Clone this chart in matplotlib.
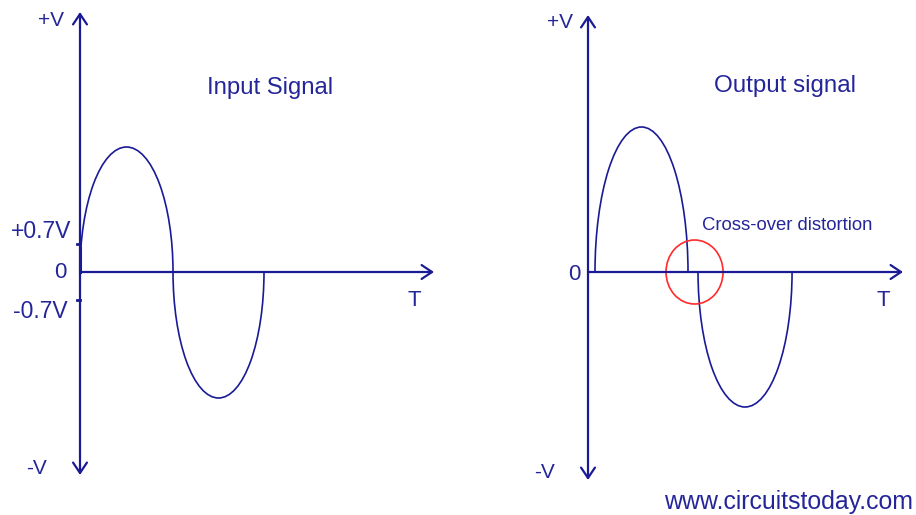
import matplotlib.pyplot as plt
from matplotlib.patches import Ellipse, Arc

plt.rcParams['font.family'] = ['Liberation Sans', 'DejaVu Sans']

# time axis in half-cycles, voltage axis in volts
dead_band = 0.7  # crossover threshold (V)

# input signal: one half-cycle per entry (start, width, peak)
in_start = [0.0, 1.011]
in_width = [1.011, 0.989]
in_peak = [3.125, -3.15]

# output signal with a gap at the crossover
out_start = [0.076, 1.196]
out_width = [1.011, 1.022]
out_peak = [3.625, -3.375]

# axis extents (arrow tips)
left_axis_top, left_axis_bottom, left_axis_end = 6.5, -5.075, 3.848
right_axis_top, right_axis_bottom, right_axis_end = 6.425, -5.2, 3.424

navy = '#1a1a96'
text_col = '#25259a'


def draw_wave(ax, starts, widths, peaks):
    for s, w, p in zip(starts, widths, peaks):
        th1, th2 = (0, 180) if p > 0 else (180, 360)
        ax.add_patch(Arc((s + w / 2, 0), w, 2 * abs(p), theta1=th1, theta2=th2,
                         color=navy, lw=1.2))


def draw_axes(ax, top, bottom, end):
    head = 'head_length=0.75,head_width=0.5'
    ax.annotate('', xy=(0, top), xytext=(0, bottom),
                arrowprops=dict(arrowstyle='<->,' + head, color=navy, lw=1.6,
                                shrinkA=0, shrinkB=0))
    ax.annotate('', xy=(end, 0), xytext=(0, 0),
                arrowprops=dict(arrowstyle='->,' + head, color=navy, lw=1.6,
                                shrinkA=0, shrinkB=0))


fig = plt.figure(figsize=(9.16, 5.15), dpi=100)
fig.patch.set_facecolor('white')

# left panel: origin at px (80, 272), 92 px per half-cycle, 40 px per volt
ax1 = fig.add_axes([0, 0, 0.5, 1])
ax1.set_xlim(-80 / 92, 378 / 92)
ax1.set_ylim(-243 / 40, 272 / 40)
ax1.axis('off')

draw_wave(ax1, in_start, in_width, in_peak)
draw_axes(ax1, left_axis_top, left_axis_bottom, left_axis_end)
ax1.plot([-0.035, 0], [dead_band, dead_band], color=navy, lw=2)
ax1.plot([-0.035, 0], [-dead_band, -dead_band], color=navy, lw=2)
ax1.plot([0, 0], [0, 0.6], color=navy, lw=2.2)

ax1.text(-0.174, 6.3, '+V', ha='right', va='center', fontsize=15, color=text_col)
ax1.text(-0.098, 1.025, '+0.7V', ha='right', va='center', fontsize=16.5, color=text_col)
ax1.text(-0.217, 0, '0', ha='center', va='center', fontsize=16, color=text_col)
ax1.text(-0.13, -1.0, '-0.7V', ha='right', va='center', fontsize=16.5, color=text_col)
ax1.text(-0.359, -4.9, '-V', ha='right', va='center', fontsize=15, color=text_col)
ax1.text(3.63, -0.7, 'T', ha='center', va='center', fontsize=16, color=text_col)
ax1.text(2.065, 4.6, 'Input Signal', ha='center', va='center', fontsize=17.2, color=text_col)

# right panel: origin at px (588, 272)
ax2 = fig.add_axes([0.5, 0, 0.5, 1])
ax2.set_xlim(-130 / 92, 328 / 92)
ax2.set_ylim(-243 / 40, 272 / 40)
ax2.axis('off')

draw_wave(ax2, out_start, out_width, out_peak)
draw_axes(ax2, right_axis_top, right_axis_bottom, right_axis_end)

ax2.add_patch(Ellipse((1.158, 0), 0.62, 1.6, fill=False, edgecolor='#ff2a2a', lw=1.2))

ax2.text(-0.163, 6.225, '+V', ha='right', va='center', fontsize=15, color=text_col)
ax2.text(-0.152, -0.075, '0', ha='center', va='center', fontsize=16, color=text_col)
ax2.text(-0.359, -5.025, '-V', ha='right', va='center', fontsize=15, color=text_col)
ax2.text(3.207, -0.7, 'T', ha='center', va='center', fontsize=16, color=text_col)
ax2.text(2.141, 4.65, 'Output signal', ha='center', va='center', fontsize=17.4, color=text_col)
ax2.text(1.239, 1.15, 'Cross-over distortion', ha='left', va='center', fontsize=13.3,
         color=text_col)
ax2.text(0.826, -5.75, 'www.circuitstoday.com', ha='left', va='center', fontsize=17.9,
         color=text_col)

fig.savefig('out.png', dpi=100)
